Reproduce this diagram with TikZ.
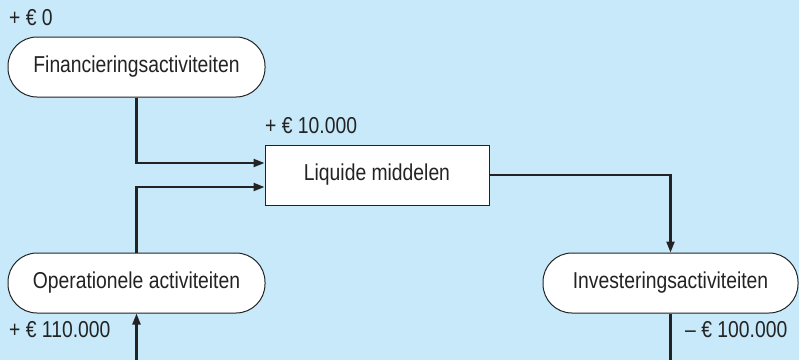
\documentclass[tikz,border=0pt]{standalone}
\usepackage{fontspec}
\setmainfont{Liberation Sans}[FakeStretch=0.84]
\usetikzlibrary{arrows.meta,calc}
\definecolor{bgblue}{RGB}{199,233,249}
\definecolor{edge}{RGB}{35,35,35}
\begin{document}
\begin{tikzpicture}[x=1pt,y=-1pt,
  every node/.style={font=\fontsize{23}{26}\selectfont, text=edge},
  pill/.style={draw=edge, line width=1pt, fill=white, rounded corners=29pt, minimum width=257pt, minimum height=60pt, inner sep=0pt},
  sqbox/.style={draw=edge, line width=1pt, fill=white, minimum width=224pt, minimum height=60pt, inner sep=0pt},
  flow/.style={draw=edge, line width=2.2pt},
  arr/.style={flow, -{Triangle[length=11pt,width=8pt]}},
  lbl/.style={anchor=west, inner sep=0pt}]
\fill[bgblue] (0,0) rectangle (799,360);
\useasboundingbox (0,0) rectangle (799,360);
\node[pill] (fin) at (136.5,67) {Financieringsactiviteiten};
\node[sqbox] (liq) at (377,175) {Liquide middelen};
\node[pill] (ope) at (136.5,283) {Operationele activiteiten};
\node[pill, minimum width=255pt] (inv) at (670.5,283) {Investeringsactiviteiten};
\coordinate (bo) at (136.5,360);
\coordinate (bi) at (670.5,360);
\node[lbl] (l0) at (9,18) {+ € 0};
\node[lbl] (l1) at (265,126) {+ € 10.000};
\node[lbl] (l2) at (9,330) {+ € 110.000};
\node[lbl] (l3) at (685,330) {– € 100.000};
\draw[arr] (fin.south) |- ($(liq.west)+(0,-12)$);
\draw[arr] (ope.north) |- ($(liq.west)+(0,12)$);
\draw[arr] (liq.east) -| (inv.north);
\draw[arr] (bo) -- (ope.south);
\draw[flow] (inv.south) -- (bi);
\end{tikzpicture}
\end{document}
